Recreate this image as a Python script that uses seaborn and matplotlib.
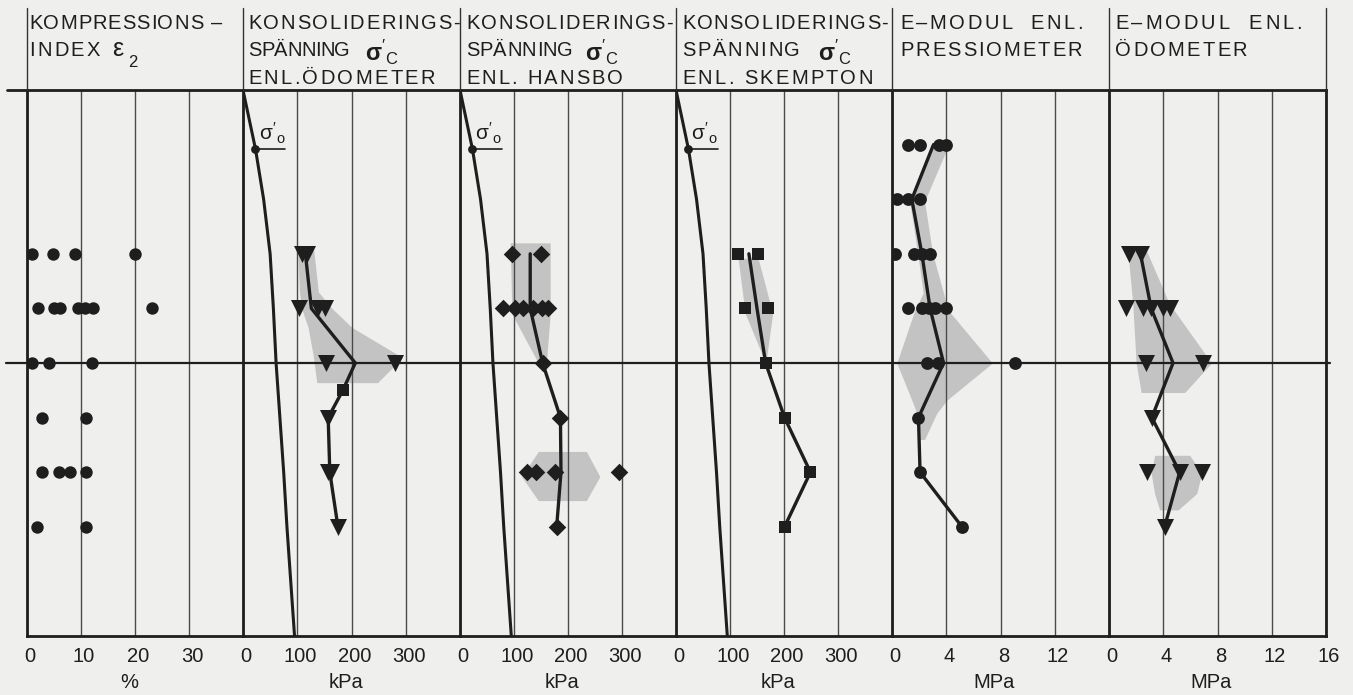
import matplotlib
matplotlib.use("Agg")
import matplotlib.pyplot as plt
import matplotlib.transforms as mtransforms
from matplotlib.lines import Line2D
import seaborn as sns

# ---- values (depth in m, 0 = top of the grid) ----

# kompressionsindex eps2 (%)
EPS_DEPTH = [3, 3, 3, 3, 4, 4, 4, 4, 4, 4, 4, 5, 5, 5, 6, 6, 7, 7, 7, 7, 8, 8]
EPS_PCT = [0.9, 4.9, 8.9, 20.0, 2.1, 5.0, 6.1, 9.5, 10.8, 12.2, 23.1,
           0.9, 4.1, 12.0, 2.8, 11.0, 2.7, 6.0, 8.0, 11.0, 1.8, 11.0]

# effective overburden pressure sigma'0 (kPa), same curve in panels 2-4
SIG0_DEPTH = [0, 1.08, 2, 3, 4, 5, 6, 7, 8, 9, 10]
SIG0_KPA = [0, 23, 38, 50, 56, 61, 68, 75, 81, 88, 95]
SIG0_MARK = 1  # index of the marked point

# preconsolidation pressure, oedometer (kPa)
OED_DEPTH = [3, 3, 4, 4, 4, 5, 5, 6, 7, 7, 8]
OED_KPA = [109, 118, 104, 139, 152, 153, 281, 157, 157, 162, 175]
OED_SQ_DEPTH = [5.5]
OED_SQ_KPA = [184]
OED_MEAN_DEPTH = [3, 4, 5, 5.5, 6, 7, 8]
OED_MEAN_KPA = [115, 126, 207, 184, 157, 160, 175]
OED_BAND_DEPTH = [2.9, 3.7, 4.0, 4.35, 4.9, 5.36]
OED_BAND_LO = [101, 104, 108, 120, 130, 136]
OED_BAND_HI = [130, 139, 164, 201, 294, 248]

# preconsolidation pressure, Hansbo (kPa)
HAN_DEPTH = [3, 3, 4, 4, 4, 4, 4, 4, 5, 6, 7, 7, 7, 7, 8]
HAN_KPA = [96, 150, 80, 102, 117, 135, 151, 163, 153, 185, 124, 141, 176, 295, 179]
HAN_MEAN_DEPTH = [3, 4, 5, 6, 7, 8]
HAN_MEAN_KPA = [130, 130, 153, 186, 187, 179]
HAN_BAND1_DEPTH = [2.8, 4.1, 5.0]
HAN_BAND1_LO = [93, 96, 145]
HAN_BAND1_HI = [167, 167, 160]
HAN_BAND2_DEPTH = [6.62, 7.08, 7.52]
HAN_BAND2_LO = [145, 114, 145]
HAN_BAND2_HI = [234, 259, 234]

# preconsolidation pressure, Skempton (kPa)
SKE_DEPTH = [3, 3, 4, 4, 5, 6, 7, 8]
SKE_KPA = [115, 152, 128, 171, 166, 201, 249, 201]
SKE_MEAN_DEPTH = [3, 4, 5, 6, 7, 8]
SKE_MEAN_KPA = [135, 150, 166, 201, 249, 201]
SKE_BAND_DEPTH = [3.08, 4.09, 4.88]
SKE_BAND_LO = [115, 128, 161]
SKE_BAND_HI = [152, 179, 168]

# E-modulus, pressuremeter (MPa)
PRE_DEPTH = [1, 1, 1, 1, 2, 2, 2, 3, 3, 3, 3, 4, 4, 4, 4, 4, 5, 5, 5, 6, 7, 8]
PRE_MPA = [1.2, 2.1, 3.5, 4.0, 0.35, 1.2, 2.1, 0.2, 1.6, 2.2, 2.8,
           1.2, 2.2, 2.7, 3.2, 4.0, 2.6, 3.4, 9.1, 1.95, 2.07, 5.16]
PRE_MEAN_DEPTH = [1, 2, 3, 4, 5, 6, 7, 8]
PRE_MEAN_MPA = [3.06, 1.46, 2.2, 2.81, 3.8, 1.95, 2.07, 5.16]
PRE_BAND_DEPTH = [1.05, 2.04, 3.0, 3.72, 4.02, 5.0, 5.68, 5.92, 6.4]
PRE_BAND_LO = [2.8, 1.3, 1.9, 2.3, 1.7, 0.35, 1.46, 1.83, 2.0]
PRE_BAND_HI = [4.1, 2.4, 3.0, 3.8, 4.1, 7.4, 4.05, 3.3, 2.4]

# E-modulus, oedometer (MPa)
EOD_DEPTH = [3, 3, 4, 4, 4, 4, 4, 5, 5, 6, 7, 7, 7, 8]
EOD_MPA = [1.5, 2.37, 1.26, 2.5, 3.11, 3.98, 4.47, 2.74, 6.94, 3.16, 2.79, 5.21, 6.89, 4.1]
EOD_MEAN_DEPTH = [3, 4, 5, 6, 7, 8]
EOD_MEAN_MPA = [2.32, 3.11, 4.72, 3.16, 5.21, 4.1]
EOD_BAND1_DEPTH = [2.93, 3.91, 5.0, 5.54]
EOD_BAND1_LO = [1.38, 1.75, 2.0, 2.37]
EOD_BAND1_HI = [2.74, 4.44, 7.56, 5.58]
EOD_BAND2_DEPTH = [6.69, 7.02, 7.39, 7.69]
EOD_BAND2_LO = [3.36, 3.11, 3.36, 3.73]
EOD_BAND2_HI = [5.95, 6.84, 6.47, 5.1]

MIDLINE_DEPTH = 5

# axes and texts
X_MAX = [40, 400, 400, 400, 16, 16]
TICKS = [[0, 10, 20, 30], [0, 100, 200, 300], [0, 100, 200, 300],
         [0, 100, 200, 300], [0, 4, 8, 12], [0, 4, 8, 12, 16]]
UNITS = ["%", "kPa", "kPa", "kPa", "MPa", "MPa"]
HEADERS = [
    ["KOMPRESSIONS –", "INDEX"],
    ["KONSOLIDERINGS-", "SPÄNNING", "ENL.ÖDOMETER"],
    ["KONSOLIDERINGS-", "SPÄNNING", "ENL. HANSBO"],
    ["KONSOLIDERINGS-", "SPÄNNING", "ENL. SKEMPTON"],
    ["E–MODUL  ENL.", "PRESSIOMETER"],
    ["E–MODUL  ENL.", "ÖDOMETER"],
]
# right end (px) of each header line; the lettering is spaced out to it
HEADER_ENDS = [
    [222, 100],
    [460, 350, 435],
    [673, 573, 623],
    [888, 800, 873],
    [1083, 1082],
    [1302, 1247],
]

# ---- layout (pixels of the 1353x695 picture) ----
W, H = 1353, 695
EDGES = [27, 243, 460, 676, 892, 1109, 1326]
TOP, BOTTOM = 90, 636
TEXT_X = [29, 248, 466, 682, 900, 1115]
SIGMA_X = [None, 365, 585, 818, None, None]
BASELINES = [29, 56, 84]
PAPER = "#efefed"
INK = "#1e1e1e"
GRID = "#4a4a4a"
SHADE = "#c3c3c3"

sns.set_style("white")
plt.rcParams["font.family"] = ["Liberation Sans", "DejaVu Sans"]
plt.rcParams["mathtext.fontset"] = "custom"
plt.rcParams["mathtext.rm"] = "Liberation Sans"
plt.rcParams["mathtext.it"] = "Liberation Sans"
plt.rcParams["mathtext.bf"] = "Liberation Sans:bold"


def fx(px):
    return px / W


def fy(py):
    return 1 - py / H


fig = plt.figure(figsize=(W / 100, H / 100), dpi=100, facecolor=PAPER)
renderer = fig.canvas.get_renderer()

axes = []
for i in range(6):
    x0, x1 = EDGES[i], EDGES[i + 1]
    ax = fig.add_axes([fx(x0), fy(BOTTOM), (x1 - x0) / W, (BOTTOM - TOP) / H])
    ax.set_facecolor(PAPER)
    axes.append(ax)


_widths = {}


def char_width(c, size):
    if (c, size) not in _widths:
        def w(s):
            t = fig.text(0, 0, s, fontsize=size)
            wd = t.get_window_extent(renderer).width
            t.remove()
            return wd
        _widths[(c, size)] = w("H" + c + "H") - w("HH")
    return _widths[(c, size)]


def spaced_text(x0, x1, y, s, size=14.5):
    widths = [char_width(c, size) for c in s]
    gap = (x1 - x0 - sum(widths)) / (len(s) - 1)
    x = x0
    for c, wd in zip(s, widths):
        if c != " ":
            fig.text(fx(x), fy(y), c, ha="left", va="baseline",
                     fontsize=size, color=INK)
        x += wd + gap


def points(ax, depth, value, marker, size):
    sns.scatterplot(x=value, y=depth, marker=marker, s=size, color=INK,
                    linewidth=0, ax=ax, zorder=4, legend=False)


def mean_line(ax, depth, value):
    sns.lineplot(x=value, y=depth, sort=False, estimator=None, color=INK,
                 lw=2.4, ax=ax, zorder=3)


def band(ax, depth, lo, hi):
    ax.fill_betweenx(depth, lo, hi, color=SHADE, lw=0, zorder=1)


def sigma0(ax):
    sns.lineplot(x=SIG0_KPA, y=SIG0_DEPTH, sort=False, estimator=None,
                 color=INK, lw=2.2, ax=ax, zorder=3)
    x0, d0 = SIG0_KPA[SIG0_MARK], SIG0_DEPTH[SIG0_MARK]
    points(ax, [d0], [x0], "o", 40)
    ax.plot([x0, x0 + 55], [d0, d0], color=INK, lw=1.2)
    ax.text(x0 + 55, d0 - 0.06, r"$\sigma'_\mathregular{o}$",
            ha="right", va="bottom", fontsize=15, color=INK)


# panel 1
points(axes[0], EPS_DEPTH, EPS_PCT, "o", 80)

# panel 2
band(axes[1], OED_BAND_DEPTH, OED_BAND_LO, OED_BAND_HI)
sigma0(axes[1])
mean_line(axes[1], OED_MEAN_DEPTH, OED_MEAN_KPA)
points(axes[1], OED_DEPTH, OED_KPA, "v", 150)
points(axes[1], OED_SQ_DEPTH, OED_SQ_KPA, "s", 75)

# panel 3
band(axes[2], HAN_BAND1_DEPTH, HAN_BAND1_LO, HAN_BAND1_HI)
band(axes[2], HAN_BAND2_DEPTH, HAN_BAND2_LO, HAN_BAND2_HI)
sigma0(axes[2])
mean_line(axes[2], HAN_MEAN_DEPTH, HAN_MEAN_KPA)
points(axes[2], HAN_DEPTH, HAN_KPA, "D", 80)

# panel 4
band(axes[3], SKE_BAND_DEPTH, SKE_BAND_LO, SKE_BAND_HI)
sigma0(axes[3])
mean_line(axes[3], SKE_MEAN_DEPTH, SKE_MEAN_KPA)
points(axes[3], SKE_DEPTH, SKE_KPA, "s", 80)

# panel 5
band(axes[4], PRE_BAND_DEPTH, PRE_BAND_LO, PRE_BAND_HI)
mean_line(axes[4], PRE_MEAN_DEPTH, PRE_MEAN_MPA)
points(axes[4], PRE_DEPTH, PRE_MPA, "o", 85)

# panel 6
band(axes[5], EOD_BAND1_DEPTH, EOD_BAND1_LO, EOD_BAND1_HI)
band(axes[5], EOD_BAND2_DEPTH, EOD_BAND2_LO, EOD_BAND2_HI)
mean_line(axes[5], EOD_MEAN_DEPTH, EOD_MEAN_MPA)
points(axes[5], EOD_DEPTH, EOD_MPA, "v", 150)

shift = mtransforms.ScaledTranslation(3 / 100, 0, fig.dpi_scale_trans)
for i, ax in enumerate(axes):
    ax.set_xlim(0, X_MAX[i])
    ax.set_ylim(10, 0)
    ax.set_yticks([])
    ax.set_xlabel("")
    ax.set_ylabel("")
    ax.set_xticks(TICKS[i])
    ax.set_xticklabels([str(t) for t in TICKS[i]])
    ax.tick_params(axis="x", length=0, labelsize=14.5, pad=8, colors=INK)
    for lab in ax.get_xticklabels():
        lab.set_transform(lab.get_transform() + shift)
    ax.set_axisbelow("line")
    ax.grid(axis="x", color=GRID, lw=1.0)
    for side in ["left", "top", "bottom"]:
        ax.spines[side].set_color(INK)
        ax.spines[side].set_linewidth(2.0)
    ax.spines["right"].set_visible(i == 5)
    ax.spines["right"].set_color(INK)
    ax.spines["right"].set_linewidth(2.0)
    ax.axhline(MIDLINE_DEPTH, color=INK, lw=1.6, zorder=2)

    cx = (EDGES[i] + EDGES[i + 1]) / 2 - 6
    fig.text(fx(cx), fy(683), UNITS[i], ha="center", va="center",
             fontsize=14.5, color=INK)

    for j, line in enumerate(HEADERS[i]):
        spaced_text(TEXT_X[i], HEADER_ENDS[i][j], BASELINES[j], line)
    if SIGMA_X[i] is not None:
        fig.text(fx(SIGMA_X[i]), fy(61), r"$\mathbf{\sigma}'_\mathregular{C}$",
                 ha="left", va="baseline", fontsize=17, color=INK)

# epsilon_2 after INDEX
fig.text(fx(112), fy(56), "ε", ha="left", va="baseline", fontsize=18, color=INK)
fig.text(fx(128), fy(67), "2", ha="left", va="baseline", fontsize=12, color=INK)

# left / right extensions of the top line and the mid line
axes[0].axhline(0, xmin=-20 / 216, xmax=0, color=INK, lw=2.0, clip_on=False)
axes[0].axhline(MIDLINE_DEPTH, xmin=-21 / 216, xmax=0, color=INK, lw=1.6,
                clip_on=False)
axes[5].axhline(MIDLINE_DEPTH, xmin=1, xmax=1.02, color=INK, lw=1.6,
                clip_on=False)

# header dividers
for x in EDGES:
    fig.add_artist(Line2D([fx(x), fx(x)], [fy(8), fy(TOP)], color="#333333",
                          lw=1.0, transform=fig.transFigure))

fig.savefig("out.png", dpi=100, facecolor=PAPER)
